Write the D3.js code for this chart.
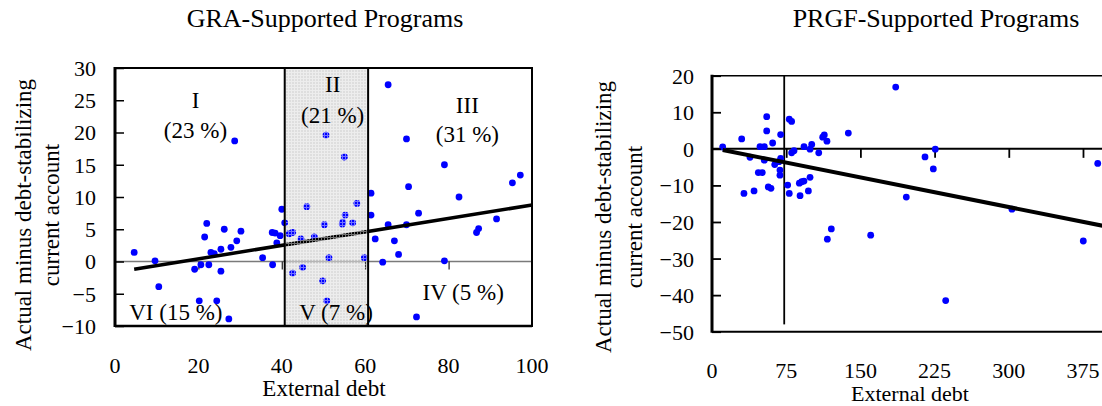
<!DOCTYPE html>
<html><head><meta charset="utf-8">
<script src="https://cdn.jsdelivr.net/npm/d3@7"></script>
<style>
body{margin:0;background:#fff}
svg{display:block}
text{font-family:"Liberation Serif","Times New Roman",serif;fill:#000}
</style>
</head><body>
<svg id="c" width="1102" height="406"></svg>
<script>
// ---------- data ----------
const graTitle = "GRA-Supported Programs";
const prgfTitle = "PRGF-Supported Programs";
const yLabelLines = ["Actual minus debt-stabilizing", "current account"];
const xLabel = "External debt";

const graDebt = [4.6,9.6,10.5,19.1,20.6,22.5,25.4,20.2,24.4,27.3,21.5,22.0,23.0,23.8,25.4,26.2,27.8,29.2,30.2,28.7,35.4,37.8,37.7,38.4,38.8,39.6,40.0,40.7,41.8,42.6,42.6,44.6,45.0,46.0,47.8,49.8,50.8,50.2,50.6,51.3,54.5,54.6,55.2,55.0,57.0,58.0,59.8,61.4,61.4,62.4,64.2,65.5,65.5,67.0,68.0,69.9,69.9,70.4,72.8,72.3,79.0,79.0,82.5,86.7,87.2,91.5,95.3,97.2];
const graCA   = [1.4,0.1,-3.9,-1.2,-0.5,-0.5,-1.5,-6.1,-6.1,-8.9,3.8,5.9,1.4,1.2,1.9,5.0,2.2,3.2,4.7,18.7,0.6,-0.5,4.5,4.4,2.9,4.0,8.1,6.0,4.3,4.5,-1.8,3.5,-0.9,8.5,3.8,-3.0,-6.1,5.7,19.6,0.6,5.8,6.1,7.2,16.2,6.0,9.0,0.6,10.6,7.2,3.5,-0.1,27.4,5.7,3.2,1.1,19.0,5.7,11.6,7.5,-8.6,15.0,0.1,10.0,4.5,5.1,6.6,12.2,13.4];

const prgfDebt = [10.8,30,32.3,38.4,42.5,46.8,50.8,48.5,52.9,55.3,55.3,52.9,56.9,59.6,61.3,63.4,69.4,69.4,67.7,68.7,68.7,78.1,80.5,76.5,78.1,80.5,82.9,89,88.3,90.7,93,93,97.4,99.1,99.1,100.8,107.9,111.9,113.5,116.2,116.6,120.6,137.8,160.4,185.7,196.4,215.3,225.7,223.7,236.2,303.2,375.3,389.9];
const prgfCA   = [0.5,2.7,-12.2,-2.3,-11.5,-6.5,-6.5,0.6,0.6,8.8,4.9,-3.1,-10.4,-10.8,1.6,-4.3,3.9,-2.6,-3.5,-5.8,-7.2,8.1,7.5,-9.9,-12.2,-1.1,-0.5,-12.8,-9.4,-9.0,-8.8,0.6,-11.5,-7.8,-0.1,1.2,-1.1,3.2,3.8,2.1,-24.7,-21.9,4.3,-23.6,16.9,-13.2,-2.2,-0.1,-5.5,-41.5,-16.5,-25.2,-4.0];

const graXTicks = [0,20,40,60,80,100];
const graYTicks = [-10,-5,0,5,10,15,20,25,30];
const prgfXTicks = [0,75,150,225,300,375];
const prgfYTicks = [-50,-40,-30,-20,-10,0,10,20];

const graFitX = [4.6, 100];
const graFitY = [-1.2, 8.76];
const prgfFitX = [10.8, 450];
const prgfFitY = [-0.3, -24.0];

const graBand = [40.7, 60.7];
const prgfRefX = 73;
const prgfRefY = [20, -48];

const quadNames  = ["I","(23 %)","II","(21 %)","III","(31 %)","IV (5 %)","V (7 %)","VI (15 %)"];
const quadX      = [19.3, 19.3, 52.2, 52.2, 84.5, 84.5, 83.5, 53.0, 14.6];
const quadY      = [23.8, 19.1, 26.3, 21.4, 23.0, 18.6, -6.0, -9.1, -9.1];

// ---------- drawing ----------
const svg = d3.select("#c");
const FS = 22;

const defs = svg.append("defs");
const pat = defs.append("pattern").attr("id","grid").attr("patternUnits","userSpaceOnUse")
  .attr("width",3).attr("height",3);
pat.append("rect").attr("width",3).attr("height",1).attr("fill","#ffffff").attr("opacity",0.45);
pat.append("rect").attr("y",1).attr("width",1).attr("height",2).attr("fill","#ffffff").attr("opacity",0.45);

// ===== Left: GRA =====
const xL = d3.scaleLinear().domain([0,100]).range([115,532]);
const yL = d3.scaleLinear().domain([-10,30]).range([326,68]);
const gL = svg.append("g");

gL.append("text").attr("x",325).attr("y",27).attr("text-anchor","middle")
  .style("font-size","26px").text(graTitle);

// band background
gL.append("rect").attr("x",xL(graBand[0])).attr("y",yL(30)).attr("width",xL(graBand[1])-xL(graBand[0]))
  .attr("height",yL(-10)-yL(30)).attr("fill","#dedede");

// zero line
gL.append("line").attr("x1",xL(0)).attr("x2",xL(100)).attr("y1",yL(0)).attr("y2",yL(0))
  .attr("stroke","#7a7a7a").attr("stroke-width",1.5);
// x ticks on zero line
gL.append("g").attr("transform",`translate(0,${yL(0)})`)
  .call(d3.axisBottom(xL).tickValues(graXTicks.slice(1,-1)).tickSize(8).tickFormat(""))
  .call(g=>g.select(".domain").remove())
  .call(g=>g.selectAll("line").attr("stroke","#333").attr("stroke-width",1.3));

// points
gL.append("g").selectAll("circle").data(graDebt).join("circle")
  .attr("cx",(d)=>xL(d)).attr("cy",(d,i)=>yL(graCA[i])).attr("r",3.4).attr("fill","#0000ff");

// regression
gL.append("line").attr("x1",xL(graFitX[0])).attr("y1",yL(graFitY[0]))
  .attr("x2",xL(graFitX[1])).attr("y2",yL(graFitY[1]))
  .attr("stroke","#000").attr("stroke-width",3.5);

// band texture overlay
gL.append("rect").attr("x",xL(graBand[0])).attr("y",yL(30)).attr("width",xL(graBand[1])-xL(graBand[0]))
  .attr("height",yL(-10)-yL(30)).attr("fill","url(#grid)");
gL.selectAll("line.band").data(graBand).join("line").attr("class","band")
  .attr("x1",d=>xL(d)).attr("x2",d=>xL(d)).attr("y1",yL(30)).attr("y2",yL(-10))
  .attr("stroke","#000").attr("stroke-width",2);

// frame
gL.append("rect").attr("x",xL(0)).attr("y",yL(30)).attr("width",xL(100)-xL(0)).attr("height",yL(-10)-yL(30))
  .attr("fill","none").attr("stroke","#000").attr("stroke-width",2);
gL.append("line").attr("x1",xL(0)).attr("x2",xL(0)).attr("y1",yL(30)-1).attr("y2",yL(-10)+1)
  .attr("stroke","#000").attr("stroke-width",3);
gL.append("line").attr("x1",xL(0)).attr("x2",xL(100)).attr("y1",yL(-10)).attr("y2",yL(-10))
  .attr("stroke","#000").attr("stroke-width",2.6);

// y axis
gL.append("g").attr("transform",`translate(${xL(0)},0)`)
  .call(d3.axisLeft(yL).tickValues(graYTicks).tickSize(-9).tickPadding(19).tickFormat(d3.format("d")))
  .call(g=>g.select(".domain").remove())
  .call(g=>g.selectAll("line").attr("stroke","#000").attr("stroke-width",1.5))
  .call(g=>g.selectAll("text").style("font-size",FS+"px").attr("font-family",null).attr("dy","0.34em"));

// x tick labels at bottom
gL.append("g").selectAll("text").data(graXTicks).join("text")
  .attr("x",d=>xL(d)).attr("y",373).attr("text-anchor","middle").style("font-size",FS+"px").text(d=>d);

gL.append("text").attr("x",324).attr("y",396).attr("text-anchor","middle").style("font-size","23px").text(xLabel);

// y label (two lines)
gL.append("text").attr("transform","translate(23,215) rotate(-90)").attr("dy","0.35em")
  .attr("text-anchor","middle").style("font-size","23px").text(yLabelLines[0]);
gL.append("text").attr("transform","translate(51,215) rotate(-90)").attr("dy","0.35em")
  .attr("text-anchor","middle").style("font-size","23px").text(yLabelLines[1]);

// quadrant labels
gL.append("g").selectAll("text").data(quadNames).join("text")
  .attr("x",(d,i)=>xL(quadX[i])).attr("y",(d,i)=>yL(quadY[i])).attr("text-anchor","middle")
  .style("font-size","23px").text(d=>d);

// ===== Right: PRGF =====
const xR = d3.scaleLinear().domain([0,450]).range([712,712+450*0.9893]);
const yR = d3.scaleLinear().domain([-50,20]).range([331.7,75.7]);
const gR = svg.append("g");

gR.append("text").attr("x",936).attr("y",27).attr("text-anchor","middle")
  .style("font-size","26px").text(prgfTitle);

// frame lines
gR.append("line").attr("x1",xR(0)).attr("x2",xR(450)).attr("y1",yR(20)).attr("y2",yR(20))
  .attr("stroke","#000").attr("stroke-width",1.5);
gR.append("line").attr("x1",xR(0)).attr("x2",xR(450)).attr("y1",yR(-50)).attr("y2",yR(-50))
  .attr("stroke","#000").attr("stroke-width",2);

// vertical reference
gR.append("line").attr("x1",xR(prgfRefX)).attr("x2",xR(prgfRefX)).attr("y1",yR(prgfRefY[0])).attr("y2",yR(prgfRefY[1]))
  .attr("stroke","#000").attr("stroke-width",1.8);

// zero axis with ticks
gR.append("g").attr("transform",`translate(0,${yR(0)})`)
  .call(d3.axisBottom(xR).tickValues(prgfXTicks.slice(1)).tickSize(9).tickFormat(""))
  .call(g=>g.select(".domain").attr("d",`M${xR(0)},0H${xR(450)}`).attr("stroke","#000").attr("stroke-width",2))
  .call(g=>g.selectAll("line").attr("stroke","#000").attr("stroke-width",1.8));

// points
gR.append("g").selectAll("circle").data(prgfDebt).join("circle")
  .attr("cx",(d)=>xR(d)).attr("cy",(d,i)=>yR(prgfCA[i])).attr("r",3.4).attr("fill","#0000ff");

// regression
gR.append("line").attr("x1",xR(prgfFitX[0])).attr("y1",yR(prgfFitY[0]))
  .attr("x2",xR(prgfFitX[1])).attr("y2",yR(prgfFitY[1]))
  .attr("stroke","#000").attr("stroke-width",4);

// y axis
gR.append("g").attr("transform",`translate(${xR(0)},0)`)
  .call(d3.axisLeft(yR).tickValues(prgfYTicks).tickSize(-9).tickPadding(18).tickFormat(d3.format("d")))
  .call(g=>g.select(".domain").attr("d",`M0,${yR(20)-1}V${yR(-50)+1}`).attr("stroke","#000").attr("stroke-width",3))
  .call(g=>g.selectAll("line").attr("stroke","#000").attr("stroke-width",1.8))
  .call(g=>g.selectAll("text").style("font-size",FS+"px").attr("font-family",null).attr("dy","0.34em"));

gR.append("g").selectAll("text").data(prgfXTicks).join("text")
  .attr("x",d=>xR(d)).attr("y",378).attr("text-anchor","middle").style("font-size",FS+"px").text(d=>d);

gR.append("text").attr("x",910).attr("y",401).attr("text-anchor","middle").style("font-size","22px").text(xLabel);

gR.append("text").attr("transform","translate(603,217) rotate(-90)").attr("dy","0.35em")
  .attr("text-anchor","middle").style("font-size","23px").text(yLabelLines[0]);
gR.append("text").attr("transform","translate(634,217) rotate(-90)").attr("dy","0.35em")
  .attr("text-anchor","middle").style("font-size","23px").text(yLabelLines[1]);
</script>
</body></html>
